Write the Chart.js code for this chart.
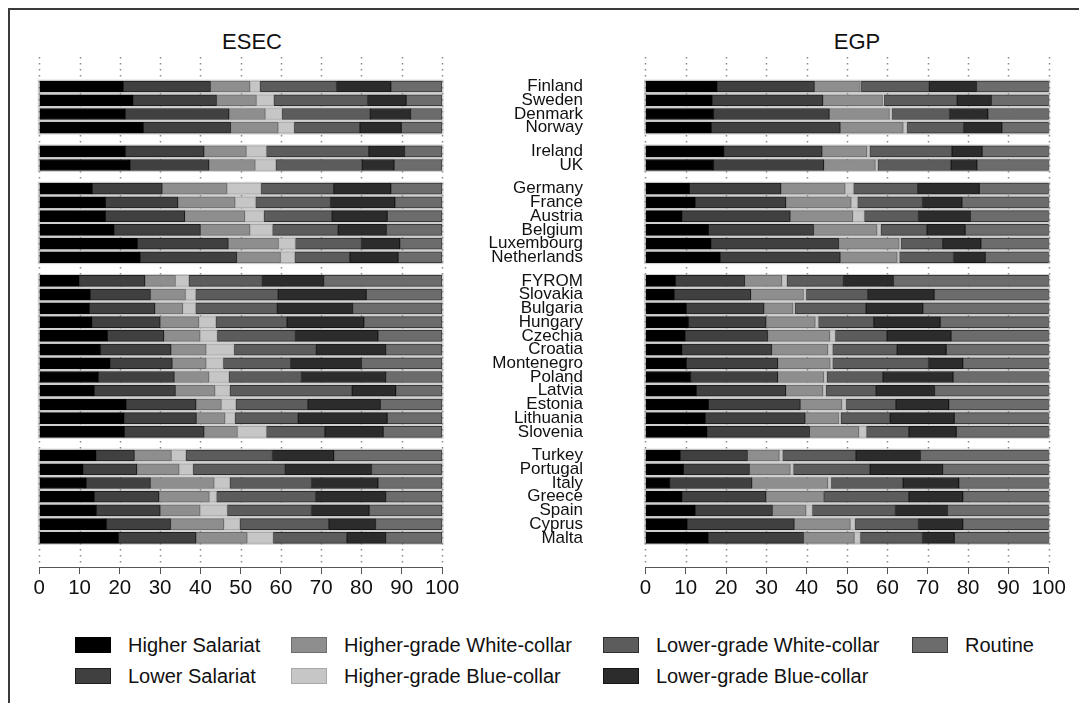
<!DOCTYPE html>
<html>
<head>
<meta charset="utf-8">
<title>ESEC / EGP class distribution by country</title>
<script src="https://cdn.jsdelivr.net/npm/chart.js@4.4.1/dist/chart.umd.min.js"></script>
<style>
  body { margin: 0; background: #fff; font-family: "Liberation Sans", Arial, sans-serif; color: #111; }
  #page { position: relative; width: 1079px; height: 703px; overflow: hidden; }
  .frame { position: absolute; left: 8px; top: 8px; width: 1200px; height: 800px;
           border-left: 2px solid #3a3a3a; border-top: 2px solid #3a3a3a; }
  canvas { position: absolute; top: 0; }
  .title { position: absolute; top: 31px; font-size: 22px; line-height: 22px; transform: translateX(-50%); }
  .item { position: absolute; display: flex; align-items: center; height: 20px;
          font-size: 20px; line-height: 20px; white-space: nowrap; }
  .swatch { width: 36px; height: 16px; box-sizing: border-box; border: 1px solid; margin-right: 17px; }
</style>
</head>
<body>
<div id="page">
  <div class="frame"></div>
  <div class="title" style="left:252px">ESEC</div>
  <div class="title" style="left:857px">EGP</div>
  <canvas id="esec" width="600" height="607" style="left:0"></canvas>
  <canvas id="egp" width="479" height="607" style="left:600px"></canvas>
  <div id="legend"></div>
</div>
<script>
// Countries, top to bottom, in their regional groups
const countries = [
  'Finland', 'Sweden', 'Denmark', 'Norway',
  'Ireland', 'UK',
  'Germany', 'France', 'Austria', 'Belgium', 'Luxembourg', 'Netherlands',
  'FYROM', 'Slovakia', 'Bulgaria', 'Hungary', 'Czechia', 'Croatia', 'Montenegro',
  'Poland', 'Latvia', 'Estonia', 'Lithuania', 'Slovenia',
  'Turkey', 'Portugal', 'Italy', 'Greece', 'Spain', 'Cyprus', 'Malta',
];
const groupSizes = [4, 2, 6, 12, 7];

const classNames = [
  'Higher Salariat', 'Lower Salariat', 'Higher-grade White-collar', 'Higher-grade Blue-collar',
  'Lower-grade White-collar', 'Lower-grade Blue-collar', 'Routine',
];

// ESEC shares (%)
const esecHigherSalariat = [20.8, 23.2, 21.3, 25.8, 21.4, 22.5, 13.2, 16.4, 16.4, 18.5, 24.3, 25.0, 9.8, 12.6, 12.4, 13.0, 16.9, 15.2, 17.5, 14.6, 13.6, 21.5, 21.0, 21.1, 14.0, 10.8, 11.6, 13.6, 14.2, 16.7, 19.6];
const esecLowerSalariat = [21.7, 20.8, 25.8, 21.7, 19.5, 19.6, 17.3, 18.0, 19.7, 21.5, 22.6, 24.0, 16.4, 15.0, 16.3, 17.0, 14.0, 17.5, 15.5, 18.9, 20.2, 17.4, 18.0, 19.8, 9.6, 13.4, 16.0, 16.1, 15.8, 15.9, 19.3];
const esecHigherWhite = [9.8, 9.9, 9.0, 11.8, 10.5, 11.5, 16.1, 14.2, 14.9, 12.3, 12.5, 10.9, 7.6, 8.7, 6.9, 9.6, 9.0, 8.7, 8.4, 8.6, 9.8, 6.3, 7.1, 8.3, 9.2, 10.5, 15.8, 12.5, 9.9, 13.2, 12.7];
const esecHigherBlue = [2.5, 4.3, 4.2, 4.0, 5.0, 5.1, 8.5, 5.1, 4.8, 5.6, 4.2, 3.5, 3.3, 2.5, 3.2, 4.2, 4.3, 7.0, 4.3, 5.0, 3.7, 3.6, 2.5, 7.2, 3.6, 3.5, 3.9, 1.8, 6.8, 4.0, 6.5];
const esecLowerWhite = [19.0, 23.3, 21.9, 16.3, 25.4, 21.5, 18.0, 18.6, 16.9, 16.3, 16.4, 13.7, 18.3, 20.5, 20.3, 17.7, 19.4, 20.4, 16.7, 18.0, 30.4, 17.9, 15.7, 14.5, 21.5, 22.9, 20.3, 24.6, 20.9, 22.1, 18.3];
const esecLowerBlue = [13.5, 9.6, 10.0, 10.3, 8.9, 7.9, 14.2, 16.0, 13.7, 12.0, 9.5, 12.0, 15.2, 21.9, 18.7, 19.1, 20.5, 17.2, 17.6, 20.9, 10.8, 18.0, 22.1, 14.5, 15.2, 21.4, 16.5, 17.4, 14.3, 11.6, 9.6];
const esecRoutine = [12.7, 8.9, 7.8, 10.1, 9.3, 11.9, 12.7, 11.7, 13.6, 13.8, 10.5, 10.9, 29.4, 18.8, 22.2, 19.4, 15.9, 14.0, 20.0, 14.0, 11.5, 15.3, 13.6, 14.6, 26.9, 17.5, 15.9, 14.0, 18.1, 16.5, 14.0];

// EGP shares (%)
const egpHigherSalariat = [17.7, 16.5, 16.9, 16.3, 19.4, 16.9, 10.9, 12.3, 9.0, 15.6, 16.2, 18.5, 7.4, 7.1, 10.1, 10.7, 9.8, 9.0, 10.1, 11.2, 12.6, 15.6, 14.8, 15.2, 8.6, 9.4, 6.0, 9.0, 12.3, 10.3, 15.5];
const egpLowerSalariat = [24.2, 27.5, 28.7, 32.0, 24.4, 27.3, 22.7, 22.5, 26.9, 26.1, 31.7, 29.8, 17.2, 19.0, 19.3, 19.2, 20.5, 22.3, 22.7, 21.6, 22.2, 22.8, 24.8, 25.5, 16.7, 16.4, 20.4, 20.9, 19.2, 26.6, 23.7];
const egpHigherWhite = [11.4, 14.8, 14.9, 15.6, 11.1, 12.8, 15.9, 16.2, 15.5, 15.7, 15.0, 14.1, 9.2, 13.1, 7.2, 12.2, 15.4, 13.9, 13.0, 11.4, 9.2, 10.3, 8.3, 12.2, 7.9, 10.1, 18.8, 14.3, 8.3, 13.9, 12.6];
const egpHigherBlue = [0.2, 0.4, 0.7, 1.0, 0.7, 0.6, 2.1, 1.6, 2.9, 1.0, 0.5, 0.6, 1.3, 0.7, 0.5, 0.8, 1.4, 1.2, 0.6, 0.8, 0.8, 1.1, 0.6, 1.9, 0.8, 0.8, 0.9, 0.1, 1.6, 1.2, 1.5];
const egpLowerWhite = [16.9, 18.1, 14.2, 14.0, 20.4, 18.2, 15.9, 16.1, 13.4, 11.4, 10.3, 13.4, 14.0, 15.2, 17.6, 13.7, 12.8, 16.0, 23.8, 13.9, 12.4, 12.3, 12.2, 10.5, 18.2, 19.0, 17.8, 21.0, 20.6, 15.7, 15.4];
const egpLowerBlue = [11.7, 8.5, 9.5, 9.5, 7.5, 6.4, 15.3, 9.8, 12.9, 9.5, 9.5, 7.9, 12.4, 16.5, 14.1, 16.5, 15.9, 12.2, 8.5, 17.4, 14.5, 13.1, 15.9, 11.8, 16.0, 18.0, 13.8, 13.4, 12.9, 11.0, 7.9];
const egpRoutine = [17.9, 14.2, 15.1, 11.6, 16.5, 17.8, 17.2, 21.5, 19.4, 20.7, 16.8, 15.7, 38.5, 28.4, 31.2, 26.9, 24.2, 25.4, 21.3, 23.7, 28.3, 24.8, 23.4, 22.9, 31.8, 26.3, 22.3, 21.3, 25.1, 21.3, 23.4];

const xTicks = [0, 10, 20, 30, 40, 50, 60, 70, 80, 90, 100];

// styling
const fills = ['#000000', '#404040', '#8e8e8e', '#c6c6c6', '#5c5c5c', '#2c2c2c', '#6c6c6c'];
const edges = ['#000000', '#1e1e1e', '#6e6e6e', '#a8a8a8', '#2e2e2e', '#141414', '#3a3a3a'];
const GROUP_GAP = 0.72;

// row positions: one unit per country plus a gap between groups
const rowPos = [];
const groupBounds = [];
{
  let i = 0;
  groupSizes.forEach((n, g) => {
    groupBounds.push([i, i + n - 1]);
    for (let k = 0; k < n; k++, i++) rowPos.push(i + g * GROUP_GAP);
  });
}

const backdrop = {
  id: 'backdrop',
  beforeDatasetsDraw(chart) {
    const { ctx, chartArea, scales: { x, y } } = chart;
    const half = Math.abs(y.getPixelForValue(1) - y.getPixelForValue(0)) / 2;
    const x0 = x.getPixelForValue(0);
    const x1 = x.getPixelForValue(100);
    ctx.save();
    ctx.fillStyle = '#d0d0d0';
    groupBounds.forEach(([a, b]) => {
      const top = y.getPixelForValue(rowPos[a]) - half;
      const bot = y.getPixelForValue(rowPos[b]) + half;
      ctx.fillRect(x0 - 1.5, top, x1 - x0 + 3, bot - top);
    });
    ctx.strokeStyle = '#8a8a8a';
    ctx.lineWidth = 1.5;
    ctx.setLineDash([1.5, 4.5]);
    x.ticks.forEach((t) => {
      const px = Math.round(x.getPixelForValue(t.value)) + 0.5;
      ctx.beginPath();
      ctx.moveTo(px, chartArea.top);
      ctx.lineTo(px, chartArea.bottom - 4);
      ctx.stroke();
    });
    ctx.restore();
  },
};

function buildDatasets(series) {
  return series.map((values, k) => ({
    label: classNames[k],
    data: values.map((v, i) => ({ x: v, y: rowPos[i] })),
    backgroundColor: fills[k],
    borderColor: edges[k],
    borderWidth: 1,
    borderSkipped: false,
    barThickness: 11,
  }));
}

function createPanel(canvasId, series, padding, showNames) {
  const ctx = document.getElementById(canvasId);
  return new Chart(ctx, {
    type: 'bar',
    data: { datasets: buildDatasets(series) },
    plugins: [backdrop],
    options: {
      indexAxis: 'y',
      responsive: false,
      animation: false,
      devicePixelRatio: 1,
      layout: { padding },
      plugins: { legend: { display: false }, tooltip: { enabled: false } },
      scales: {
        x: {
          type: 'linear',
          stacked: true,
          offset: false,
          min: 0,
          max: 100,
          afterBuildTicks: (axis) => { axis.ticks = xTicks.map((v) => ({ value: v })); },
          afterFit: (axis) => { axis.height = 40; },
          grid: { drawOnChartArea: false, drawTicks: true, tickLength: 7, color: '#555' },
          border: { display: true, color: '#555', width: 1 },
          ticks: {
            autoSkip: false, maxRotation: 0, padding: 2, color: '#111',
            font: { family: '"Liberation Sans", Arial, sans-serif', size: 20.5 },
          },
        },
        y: {
          type: 'linear',
          stacked: true,
          offset: false,
          reverse: true,
          min: -2.15,
          max: 35,
          display: showNames,
          position: 'right',
          afterBuildTicks: (axis) => { axis.ticks = rowPos.map((v) => ({ value: v })); },
          afterFit: (axis) => { axis.width = showNames ? 141 : 0; },
          grid: { display: false },
          border: { display: false },
          ticks: {
            autoSkip: false, crossAlign: 'far', padding: 0, color: '#111',
            font: { family: '"Liberation Sans", Arial, sans-serif', size: 17 },
            callback: (value, index) => countries[index],
          },
        },
      },
    },
  });
}

createPanel('esec',
  [esecHigherSalariat, esecLowerSalariat, esecHigherWhite, esecHigherBlue, esecLowerWhite, esecLowerBlue, esecRoutine],
  { left: 39.3, right: 17, top: 57, bottom: 0 }, true);

createPanel('egp',
  [egpHigherSalariat, egpLowerSalariat, egpHigherWhite, egpHigherBlue, egpLowerWhite, egpLowerBlue, egpRoutine],
  { left: 45.4, right: 30.3, top: 57, bottom: 0 }, false);

// legend: two rows, filled column by column
const legendCols = [75, 291, 603, 912];
const legendRows = [635, 666];
const legend = document.getElementById('legend');
classNames.forEach((name, k) => {
  const item = document.createElement('div');
  item.className = 'item';
  item.style.left = legendCols[Math.floor(k / 2)] + 'px';
  item.style.top = legendRows[k % 2] + 'px';
  const sw = document.createElement('span');
  sw.className = 'swatch';
  sw.style.background = fills[k];
  sw.style.borderColor = edges[k];
  item.appendChild(sw);
  item.appendChild(document.createTextNode(name));
  legend.appendChild(item);
});
</script>
</body>
</html>
